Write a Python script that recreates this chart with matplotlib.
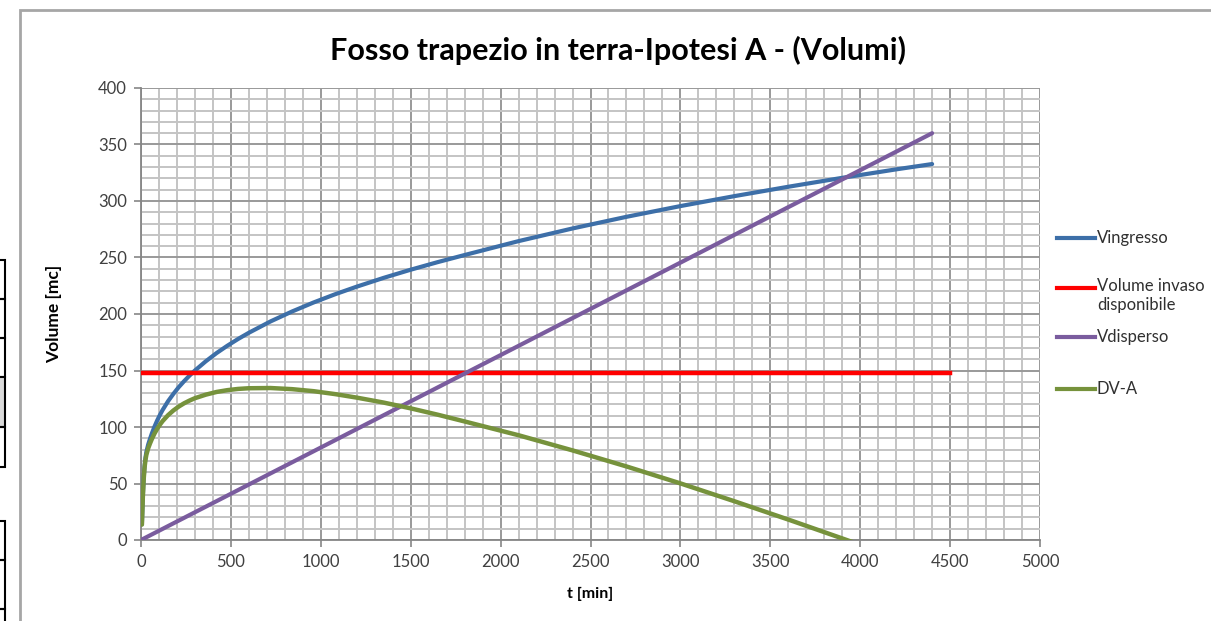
import matplotlib
matplotlib.use("Agg")
import matplotlib.pyplot as plt
from matplotlib.patches import Rectangle
from matplotlib.lines import Line2D
from matplotlib.ticker import MultipleLocator

plt.rcParams['font.family'] = ['Lato', 'DejaVu Sans']

# ---- data ----
t_in = [5, 10, 15, 20, 25, 30, 40, 50, 60, 75, 90, 105, 120, 150, 180, 210, 240, 270,
        300, 360, 420, 480, 540, 600, 720, 840, 960, 1080, 1200, 1350, 1500, 1650,
        1800, 2100, 2400, 2700, 3000, 3300, 3600, 3900, 4200, 4400]
v_ingresso = [14, 38, 55, 66, 73, 78, 84.5, 89.5, 94.1, 100.3, 105.8, 110.6, 115.0, 122.7,
              129.3, 135.3, 140.6, 145.5, 150.0, 158.1, 165.4, 171.9, 177.9, 183.4, 193.4,
              202.2, 210.2, 217.5, 224.2, 232.0, 239.2, 245.9, 252.2, 264.5, 275.7, 286.0,
              295.5, 304.3, 312.6, 320.5, 328.0, 332.7]
dv_a = [13.6, 37.2, 53.8, 64.4, 71.0, 75.5, 81.2, 85.4, 89.2, 94.2, 98.4, 102.0, 105.2,
        110.4, 114.6, 118.1, 121.0, 123.4, 125.5, 128.6, 131.0, 132.6, 133.7, 134.3, 134.5,
        133.5, 131.7, 129.1, 126.0, 121.6, 116.5, 110.9, 104.9, 92.7, 79.3, 65.1, 50.1,
        34.3, 18.1, 1.4, -15.6, -27.3]
t_disp = [0, 4400]
v_disperso = [0, 360]
t_inv = [0, 4500]
v_invaso = [148, 148]

labels = ["Vingresso", "Volume invaso\ndisponibile", "Vdisperso", "DV-A"]
title = "Fosso trapezio in terra-Ipotesi A - (Volumi)"
xlabel = "t [min]"
ylabel = "Volume [mc]"

c_blue = "#3d6fa8"
c_red = "#ff0000"
c_purple = "#7a5c9e"
c_green = "#76923c"
colors = [c_blue, c_red, c_purple, c_green]

W, H = 1211, 621
fig = plt.figure(figsize=(W / 100, H / 100), dpi=100)
fig.patch.set_facecolor("white")


def fx(p):
    return p / W


def fy(p):
    return 1 - p / H


# spreadsheet cell fragments on the left edge
for (y0, y1, fill) in [(260, 299, None), (299, 338, None), (338, 377, None),
                       (377, 427, "#d9d9d9"), (427, 467, None),
                       (521, 560, None), (560, 609, None), (609, 640, None)]:
    fig.add_artist(Rectangle((-0.01, fy(y1)), 0.01 + fx(5), fy(y0) - fy(y1),
                             transform=fig.transFigure, facecolor=fill if fill else "none",
                             edgecolor="black", linewidth=1.5))

# chart area border
fig.add_artist(Rectangle((fx(20), -0.05), 1.2, fy(10) + 0.05, transform=fig.transFigure,
                         facecolor="none", edgecolor="#a6a6a6", linewidth=2))

ax = fig.add_axes([fx(141), fy(540), fx(1040 - 141), (540 - 88) / H])

ax.plot(t_in, v_ingresso, color=c_blue, lw=3, label=labels[0], solid_capstyle="round",
        solid_joinstyle="round", zorder=3)
ax.plot(t_inv, v_invaso, color=c_red, lw=3.2, label=labels[1], zorder=3)
ax.plot(t_disp, v_disperso, color=c_purple, lw=3, label=labels[2], solid_capstyle="round", zorder=3)
ax.plot(t_in, dv_a, color=c_green, lw=3.2, label=labels[3], solid_capstyle="round",
        solid_joinstyle="round", zorder=3)

ax.set_xlim(0, 5000)
ax.set_ylim(0, 400)
ax.xaxis.set_major_locator(MultipleLocator(500))
ax.xaxis.set_minor_locator(MultipleLocator(100))
ax.yaxis.set_major_locator(MultipleLocator(50))
ax.yaxis.set_minor_locator(MultipleLocator(10))
ax.grid(which="major", color="#999999", lw=1.4, zorder=1)
ax.grid(which="minor", color="#c4c4c4", lw=1.4, zorder=0)
ax.set_axisbelow(True)

for s in ["top", "right"]:
    ax.spines[s].set_visible(False)
for s in ["left", "bottom"]:
    ax.spines[s].set_color("#868686")
    ax.spines[s].set_linewidth(1.3)

ax.tick_params(which="major", direction="out", length=5, width=1.2, color="#868686",
               labelsize=12, labelcolor="#404040", pad=5)
ax.tick_params(which="minor", length=0)

fig.text(fx(618), fy(50), title, fontsize=22, fontweight="bold", ha="center", va="center",
         color="black")
ax.set_xlabel(xlabel, fontsize=11.5, fontweight="bold", labelpad=12)
ax.set_ylabel(ylabel, fontsize=12.5, fontweight="bold", labelpad=26)

# legend (manual layout to follow the reference)
leg_y = [238, 288, 337, 389]
for lab, col, yy in zip(labels, colors, leg_y):
    fig.add_artist(Line2D([fx(1057), fx(1095)], [fy(yy), fy(yy)], transform=fig.transFigure,
                          color=col, lw=3))
    if "\n" in lab:
        fig.text(fx(1097), fy(yy - 10), lab, fontsize=12, va="top", ha="left",
                 color="#303030", linespacing=1.25)
    else:
        fig.text(fx(1097), fy(yy), lab, fontsize=12, va="center", ha="left", color="#303030")

fig.savefig("out.png", dpi=100)
